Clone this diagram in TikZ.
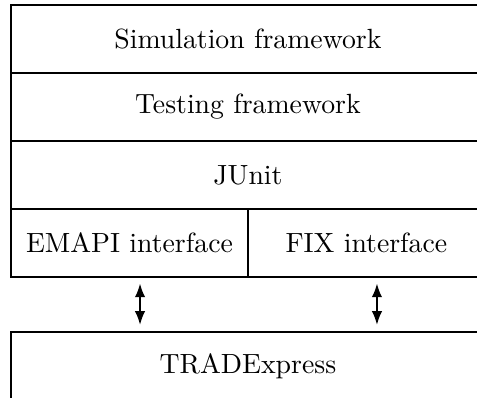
\documentclass[tikz,border=0pt]{standalone}
\usetikzlibrary{positioning,arrows.meta}
\begin{document}
\begin{tikzpicture}[x=0.36pt,y=-0.36pt,
	layer/.style={draw,line width=0.7pt,rectangle,minimum width=170.6pt,minimum height=24.5pt,inner sep=0pt,outer sep=0pt},
	half/.style={layer,minimum width=85.3pt},
	link/.style={{Latex[length=5pt,width=3.8pt]}-{Latex[length=5pt,width=3.8pt]},line width=0.8pt}]
	\useasboundingbox (0,0) rectangle (477,398);
	\clip (0,0) rectangle (477,398);
	\node[layer,anchor=north west] (sim) at (11,5) {Simulation framework};
	\node[layer,below=0pt of sim] (test) {Testing framework};
	\node[layer,below=0pt of test] (junit) {JUnit};
	\node[half,anchor=north west] (emapi) at (junit.south west) {EMAPI interface};
	\node[half,anchor=north east] (fix) at (junit.south east) {FIX interface};
	\node[layer,anchor=north west] (trade) at (11,332) {TRADExpress};
	\coordinate (e1) at ([xshift=3.8pt]emapi.south);
	\coordinate (f1) at ([xshift=3.8pt]fix.south);
	\draw[link,shorten <=2.2pt,shorten >=2.5pt] (e1) -- (e1 |- trade.north);
	\draw[link,shorten <=2.2pt,shorten >=2.5pt] (f1) -- (f1 |- trade.north);
\end{tikzpicture}
\end{document}
